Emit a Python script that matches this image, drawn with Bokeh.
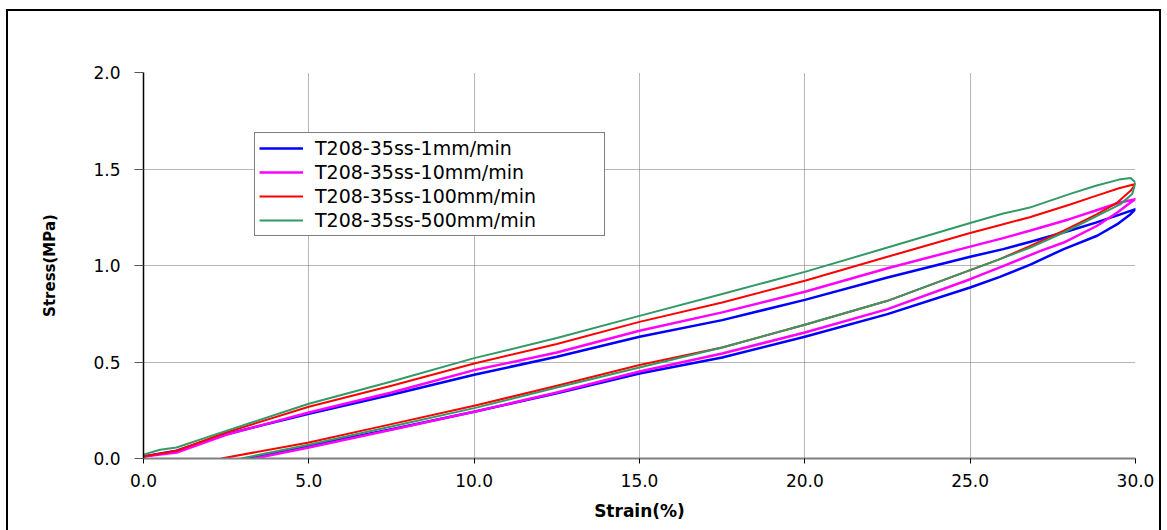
from bokeh.plotting import figure
from bokeh.models import (Range1d, FixedTicker, NumeralTickFormatter, InlineStyleSheet,
                          Legend, LegendItem)
from bokeh.embed import file_html
from bokeh.resources import INLINE

# Loading branch (strain %, stress MPa)
strain_load = [0, 1, 2.5, 5, 7.5, 10, 12.5, 15, 17.5, 20, 22.5, 25, 26, 26.8, 28, 28.8, 29.5, 30]
load_1 = [0.01, 0.040, 0.126, 0.232, 0.330, 0.434, 0.527, 0.631, 0.717, 0.822, 0.938, 1.045,
          1.085, 1.122, 1.180, 1.222, 1.262, 1.292]
load_10 = [0.01, 0.031, 0.123, 0.238, 0.342, 0.458, 0.549, 0.662, 0.757, 0.864, 0.986, 1.098,
           1.142, 1.180, 1.240, 1.285, 1.325, 1.344]
load_100 = [0.01, 0.040, 0.135, 0.268, 0.377, 0.492, 0.593, 0.708, 0.808, 0.921, 1.045, 1.168,
            1.214, 1.250, 1.315, 1.361, 1.400, 1.422]
strain_load_500 = [0, 0.5, 1, 2.5, 5, 7.5, 10, 12.5, 15, 17.5, 20, 22.5, 25, 26, 26.8, 28,
                   28.8, 29.5, 29.85]
load_500 = [0.02, 0.045, 0.057, 0.143, 0.284, 0.399, 0.520, 0.624, 0.739, 0.852, 0.967, 1.093,
            1.220, 1.269, 1.300, 1.370, 1.413, 1.445, 1.453]

# Unloading branch
strain_unload_1 = [29.85, 29.45, 28.84, 27.83, 26.82, 25.9, 25, 22.5, 20, 17.5, 15, 12.5, 10,
                   7.5, 5, 3.2]
unload_1 = [1.266, 1.214, 1.154, 1.085, 1.005, 0.941, 0.886, 0.748, 0.631, 0.523, 0.440, 0.338,
            0.242, 0.152, 0.066, 0.0]
strain_unload_10 = [29.85, 29.45, 28.84, 27.83, 27.13, 25.9, 25, 22.5, 20, 17.5, 15, 12.5, 10,
                    7.5, 5, 3.35]
unload_10 = [1.326, 1.275, 1.206, 1.119, 1.076, 0.990, 0.929, 0.774, 0.653, 0.544, 0.451, 0.342,
             0.242, 0.149, 0.057, 0.0]
strain_unload_100 = [29.85, 29.45, 28.84, 27.83, 26.82, 25.9, 25, 22.5, 20, 17.5, 15, 12.5, 10,
                     7.5, 5, 2.35]
unload_100 = [1.387, 1.326, 1.266, 1.180, 1.102, 1.033, 0.976, 0.817, 0.693, 0.575, 0.484,
              0.377, 0.273, 0.178, 0.083, 0.0]
strain_unload_500 = [30, 29.9, 29.55, 28.84, 27.83, 26.82, 25.9, 25, 22.5, 20, 17.5, 15, 12.5,
                     10, 7.5, 5, 2.95]
unload_500 = [1.430, 1.370, 1.318, 1.257, 1.171, 1.093, 1.033, 0.976, 0.817, 0.693, 0.575,
              0.472, 0.368, 0.261, 0.166, 0.071, 0.0]

labels = ["T208-35ss-1mm/min", "T208-35ss-10mm/min", "T208-35ss-100mm/min", "T208-35ss-500mm/min"]
colors = ["#0000FF", "#FF00FF", "#FF0000", "#339966"]
widths = [2.5, 2.5, 2, 2]

x_ticks = [0, 5, 10, 15, 20, 25, 30]
y_ticks = [0, 0.5, 1.0, 1.5, 2.0]

FONT = "DejaVu Sans"

p = figure(width=1167, height=530, output_backend="svg", toolbar_location=None,
           x_range=Range1d(0, 30), y_range=Range1d(0, 2.0),
           min_border_left=143, min_border_right=32, min_border_top=72, min_border_bottom=72)
p.background_fill_color = "white"
p.border_fill_color = "white"
p.outline_line_color = None

# outer chart border (open at the bottom edge of the page)
p.stylesheets = [InlineStyleSheet(css="""
:host { position: relative; }
:host::after {
  content: ""; position: absolute; left: 6px; top: 9px; width: 1155px; height: 521px;
  box-sizing: border-box; border: 2px solid #000; border-bottom: none;
  pointer-events: none; z-index: 10;
}
""")]

# axes
p.xaxis.ticker = FixedTicker(ticks=x_ticks)
p.yaxis.ticker = FixedTicker(ticks=y_ticks)
p.xaxis.formatter = NumeralTickFormatter(format="0.0")
p.yaxis.formatter = NumeralTickFormatter(format="0.0")
for ax in (p.xaxis, p.yaxis):
    ax.minor_tick_line_color = None
    ax.major_tick_in = 0
    ax.major_label_text_font = FONT
    ax.major_label_text_font_size = "17px"
    ax.major_label_text_color = "black"
    ax.axis_label_text_font = FONT
    ax.axis_label_text_font_style = "bold"
    ax.axis_label_text_color = "black"
    ax.major_tick_line_color = "black"
p.xaxis.axis_line_color = "#808080"
p.xaxis.axis_line_width = 2
p.xaxis.major_tick_out = 5
p.xaxis.major_label_standoff = 10
p.xaxis.axis_label = "Strain(%)"
p.xaxis.axis_label_text_font_size = "17px"
p.xaxis.axis_label_standoff = 11
p.yaxis.axis_line_color = "black"
p.yaxis.axis_line_width = 1.5
p.yaxis.major_tick_out = 9
p.yaxis.major_tick_line_color = "#555555"
p.yaxis.major_label_standoff = 14
p.yaxis.axis_label = "Stress(MPa)"
p.yaxis.axis_label_text_font_size = "15px"
p.yaxis.axis_label_standoff = 31

# dotted grid
p.xgrid.ticker = FixedTicker(ticks=x_ticks)
p.ygrid.ticker = FixedTicker(ticks=y_ticks)
for g in (p.xgrid, p.ygrid):
    g.grid_line_color = "#6e6e6e"
    g.grid_line_dash = "1 1"
    g.grid_line_width = 1

# each rate drawn as one loop: loading then unloading
series = [
    (strain_load, load_1, strain_unload_1, unload_1),
    (strain_load, load_10, strain_unload_10, unload_10),
    (strain_load, load_100, strain_unload_100, unload_100),
    (strain_load_500, load_500, strain_unload_500, unload_500),
]
items = []
for (xs_l, ys_l, xs_u, ys_u), lab, col, w in zip(series, labels, colors, widths):
    r = p.line(list(xs_l) + list(xs_u), list(ys_l) + list(ys_u),
               line_color=col, line_width=w, line_join="round")
    items.append(LegendItem(label=lab, renderers=[r]))

legend = Legend(items=items, location=(111, 222), border_line_color="black",
                border_line_width=1.5, background_fill_color="white", background_fill_alpha=1,
                label_text_font=FONT, label_text_font_size="19px", label_text_color="black",
                glyph_width=44, glyph_height=20, label_height=20, label_standoff=12,
                label_width=285, spacing=2, padding=4, margin=0)
p.add_layout(legend, "center")

open("out.html", "w").write(file_html(p, INLINE))
